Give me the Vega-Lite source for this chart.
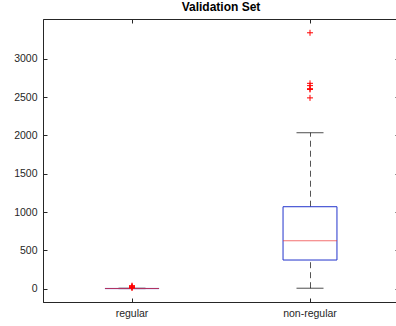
{
  "$schema": "https://vega.github.io/schema/vega-lite/v6.json",
  "width": 356,
  "height": 283,
  "autosize": {"type": "none"},
  "padding": {"left": 43, "top": 19, "right": 0, "bottom": 24},
  "title": {"text": "Validation Set", "fontSize": 12, "fontWeight": "bold", "font": "Liberation Sans", "color": "#000000", "offset": 5},
  "config": {
    "view": {"stroke": "#262626", "strokeWidth": 1},
    "axis": {"domainColor": "#262626", "tickColor": "#262626", "labelColor": "#262626", "labelFont": "Liberation Sans", "labelFontSize": 10.5, "grid": false, "tickSize": -4, "labelPadding": 10, "title": null}
  },
  "datasets": {
    "stats": [
      {"group": "regular", "lo": 0, "q1": 0, "median": 1, "q3": 2, "hi": 5},
      {"group": "non-regular", "lo": 5, "q1": 373, "median": 625, "q3": 1069, "hi": 2035}
    ],
    "outliers": [
      {"group": "regular", "value": 8},
      {"group": "regular", "value": 15},
      {"group": "regular", "value": 22},
      {"group": "regular", "value": 30},
      {"group": "regular", "value": 38},
      {"group": "non-regular", "value": 3340},
      {"group": "non-regular", "value": 2680},
      {"group": "non-regular", "value": 2650},
      {"group": "non-regular", "value": 2610},
      {"group": "non-regular", "value": 2600},
      {"group": "non-regular", "value": 2490}
    ]
  },
  "resolve": {"axis": {"x": "independent", "y": "independent"}},
  "layer": [
    {
      "data": {"name": "stats"},
      "mark": {"type": "rule", "color": "#555555", "strokeDash": [6, 4], "strokeWidth": 1, "xOffset": 0.5},
      "encoding": {
        "x": {"field": "group", "type": "nominal", "scale": {"domain": ["regular", "non-regular"], "paddingInner": 0.697, "paddingOuter": 0.3485}, "axis": {"labelAngle": 0, "orient": "bottom"}},
        "y": {"field": "q3", "type": "quantitative", "scale": {"domain": [-175, 3520], "nice": false, "zero": false}, "axis": {"values": [0, 500, 1000, 1500, 2000, 2500, 3000], "format": "d", "orient": "left"}},
        "y2": {"field": "hi"}
      }
    },
    {
      "data": {"name": "stats"},
      "mark": {"type": "rule", "color": "#555555", "strokeDash": [6, 4], "strokeWidth": 1, "xOffset": 0.5},
      "encoding": {
        "x": {"field": "group", "type": "nominal", "scale": {"domain": ["regular", "non-regular"]}, "axis": null},
        "y": {"field": "lo", "type": "quantitative", "axis": null},
        "y2": {"field": "q1"}
      }
    },
    {
      "data": {"name": "stats"},
      "mark": {"type": "tick", "color": "#000000", "size": 27, "thickness": 1},
      "encoding": {
        "x": {"field": "group", "type": "nominal", "axis": {"orient": "top", "labels": false, "domain": false}},
        "y": {"field": "hi", "type": "quantitative", "axis": {"orient": "right", "labels": false, "domain": false, "values": [0, 500, 1000, 1500, 2000, 2500, 3000]}}
      }
    },
    {
      "data": {"name": "stats"},
      "mark": {"type": "tick", "color": "#000000", "size": 27, "thickness": 1},
      "encoding": {
        "x": {"field": "group", "type": "nominal", "axis": null},
        "y": {"field": "lo", "type": "quantitative", "axis": null}
      }
    },
    {
      "data": {"name": "stats"},
      "mark": {"type": "bar", "fill": null, "stroke": "#2233cc", "strokeWidth": 1},
      "encoding": {
        "x": {"field": "group", "type": "nominal", "axis": null},
        "y": {"field": "q1", "type": "quantitative", "axis": null},
        "y2": {"field": "q3"}
      }
    },
    {
      "data": {"name": "stats"},
      "mark": {"type": "tick", "color": "#ee3333", "size": 54, "thickness": 1},
      "encoding": {
        "x": {"field": "group", "type": "nominal", "axis": null},
        "y": {"field": "median", "type": "quantitative", "axis": null}
      }
    },
    {
      "data": {"name": "outliers"},
      "mark": {"type": "point", "shape": "M-1,0H1M0,-1V1", "size": 36, "filled": false, "stroke": "#ff0000", "strokeWidth": 1, "opacity": 1},
      "encoding": {
        "x": {"field": "group", "type": "nominal", "axis": null},
        "y": {"field": "value", "type": "quantitative", "axis": null}
      }
    }
  ]
}
